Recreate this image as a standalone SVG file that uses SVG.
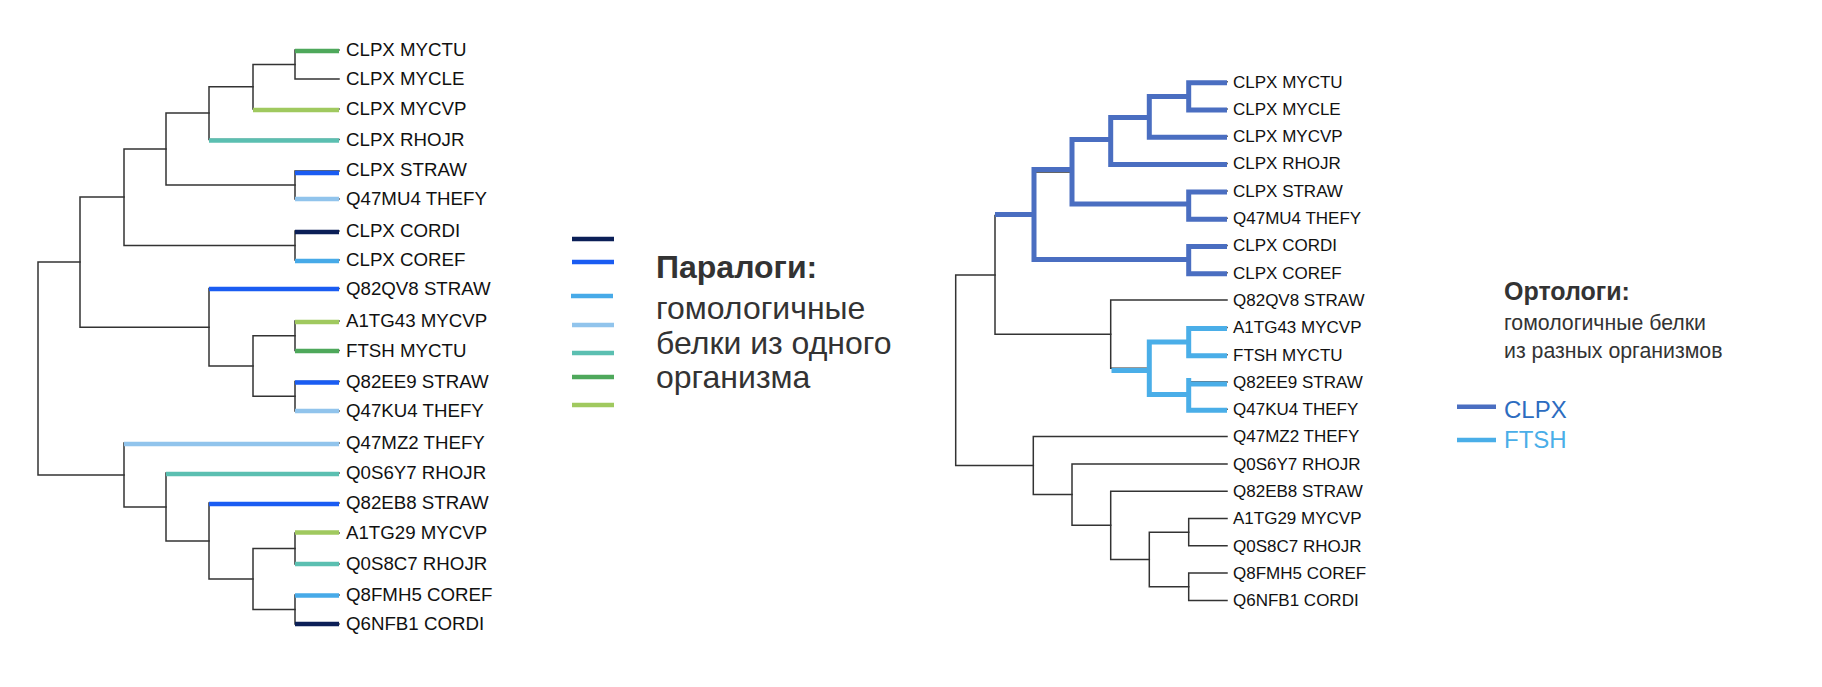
<svg xmlns="http://www.w3.org/2000/svg" width="1822" height="687" viewBox="0 0 1822 687">
<style>
  .bg{fill:#ffffff}
  .br{fill:none;stroke:#333333;stroke-width:1.5;stroke-linecap:square}
  .ov{fill:none;stroke-width:4.5;stroke-linecap:butt}
  .ovr{fill:none;stroke-width:5;stroke-linejoin:miter;stroke-linecap:butt}
  .lfL{font-family:"Liberation Sans",Arial,sans-serif;font-size:18.7px;fill:#111111}
  .lfR{font-family:"Liberation Sans",Arial,sans-serif;font-size:17px;fill:#111111}
  .tt{font-family:"Liberation Sans",Arial,sans-serif;fill:#333333}
  .navy{stroke:#0b1f57}
  .blue{stroke:#1a5cf2}
  .sky{stroke:#47aae8}
  .lblue{stroke:#91c4ec}
  .teal{stroke:#5bbfb1}
  .green{stroke:#4ea85b}
  .lgreen{stroke:#a0c95f}
  .clpx{stroke:#4a6ec1}
  .ftsh{stroke:#4aaee8}
</style>
<rect class="bg" x="0" y="0" width="1822" height="687"/>

<g id="connectors">
  <!-- left tree thin branches -->
  <path class="br" d="M339,50 H295 V79 H339"/>
  <path class="br" d="M295,64.5 H253 V109 H339"/>
  <path class="br" d="M253,86.75 H209 V139.5 H339"/>
  <path class="br" d="M339,171 H295 V199 H339"/>
  <path class="br" d="M209,113 H166 V185 H295"/>
  <path class="br" d="M339,231 H295 V260 H339"/>
  <path class="br" d="M166,149 H124 V245.5 H295"/>
  <path class="br" d="M339,321 H295 V350.5 H339"/>
  <path class="br" d="M339,381.5 H295 V411 H339"/>
  <path class="br" d="M295,335.75 H253 V396.25 H295"/>
  <path class="br" d="M339,288.5 H209 V366 H253"/>
  <path class="br" d="M124,197 H80 V327.25 H209"/>
  <path class="br" d="M339,533 H295 V564 H339"/>
  <path class="br" d="M339,595 H295 V624 H339"/>
  <path class="br" d="M295,548.5 H253 V609.5 H295"/>
  <path class="br" d="M339,503 H209 V579 H253"/>
  <path class="br" d="M339,473 H166 V541 H209"/>
  <path class="br" d="M339,443 H124 V507 H166"/>
  <path class="br" d="M80,262 H38 V475 H124"/>

  <!-- left tree coloured leaf branches -->
  <line class="ov green" x1="295" y1="51" x2="339" y2="51"/>
  <line class="ov lgreen" x1="253" y1="110" x2="339" y2="110"/>
  <line class="ov teal" x1="209" y1="140.5" x2="339" y2="140.5"/>
  <line class="ov blue" x1="295" y1="173" x2="339" y2="173"/>
  <line class="ov lblue" x1="295" y1="199" x2="339" y2="199"/>
  <line class="ov navy" x1="295" y1="232" x2="339" y2="232"/>
  <line class="ov sky" x1="295" y1="261" x2="339" y2="261"/>
  <line class="ov blue" x1="209" y1="289" x2="339" y2="289"/>
  <line class="ov lgreen" x1="295" y1="322" x2="339" y2="322"/>
  <line class="ov green" x1="295" y1="351" x2="339" y2="351"/>
  <line class="ov blue" x1="295" y1="382.5" x2="339" y2="382.5"/>
  <line class="ov lblue" x1="295" y1="411" x2="339" y2="411"/>
  <line class="ov lblue" x1="124" y1="444" x2="339" y2="444"/>
  <line class="ov teal" x1="166" y1="474" x2="339" y2="474"/>
  <line class="ov blue" x1="209" y1="504" x2="339" y2="504"/>
  <line class="ov lgreen" x1="295" y1="532.5" x2="339" y2="532.5"/>
  <line class="ov teal" x1="295" y1="564" x2="339" y2="564"/>
  <line class="ov sky" x1="295" y1="595.5" x2="339" y2="595.5"/>
  <line class="ov navy" x1="295" y1="624" x2="339" y2="624"/>

  <!-- right tree thin branches -->
  <path class="br" d="M1227,81.7 H1188.7 V109 H1227"/>
  <path class="br" d="M1188.7,95.35 H1149.3 V136.3 H1227"/>
  <path class="br" d="M1149.3,115.8 H1110.7 V163.6 H1227"/>
  <path class="br" d="M1227,190.9 H1188.7 V218.2 H1227"/>
  <path class="br" d="M1110.7,139.7 H1072 V204.55 H1188.7"/>
  <path class="br" d="M1227,245.5 H1188.7 V272.8 H1227"/>
  <path class="br" d="M1072,172.1 H1034 V259.15 H1188.7"/>
  <path class="br" d="M1227,327.4 H1188.7 V354.7 H1227"/>
  <path class="br" d="M1227,382 H1188.7 V409.3 H1227"/>
  <path class="br" d="M1188.7,341.05 H1149.3 V395.65 H1188.7"/>
  <path class="br" d="M1227,300.1 H1110.7 V368.35 H1149.3"/>
  <path class="br" d="M1034,215.6 H995 V334.2 H1110.7"/>
  <path class="br" d="M1227,518.5 H1188.7 V545.8 H1227"/>
  <path class="br" d="M1227,573.1 H1188.7 V600.4 H1227"/>
  <path class="br" d="M1188.7,532.15 H1149.3 V586.75 H1188.7"/>
  <path class="br" d="M1227,491.2 H1110.7 V559.45 H1149.3"/>
  <path class="br" d="M1227,463.9 H1072 V525.3 H1110.7"/>
  <path class="br" d="M1227,436.6 H1033.3 V494.6 H1072"/>
  <path class="br" d="M995,274.9 H955.7 V465.6 H1033.3"/>

  <!-- right tree CLPX highlight -->
  <path class="ovr clpx" d="M1227,82.7 H1188.7 V110 H1227"/>
  <path class="ovr clpx" d="M1188.7,96.5 H1149.3 V137.3 H1227"/>
  <path class="ovr clpx" d="M1149.3,117.5 H1110.7 V164.6 H1227"/>
  <path class="ovr clpx" d="M1227,191.9 H1188.7 V219.2 H1227"/>
  <path class="ovr clpx" d="M1110.7,139.5 H1072 V204 H1188.7"/>
  <path class="ovr clpx" d="M1227,246.5 H1188.7 V273.8 H1227"/>
  <path class="ovr clpx" d="M1072,169.5 H1034 V259.5 H1188.7"/>
  <path class="ovr clpx" d="M995,214.5 H1034"/>
  <!-- right tree FTSH highlight -->
  <path class="ovr ftsh" d="M1227,328.4 H1188.7 V355.7 H1227"/>
  <path class="ovr ftsh" d="M1227,384 H1190 M1188.7,378 V410.3 H1227"/>
  <path class="ovr ftsh" d="M1188.7,342 H1149.3 V394.5 H1188.7"/>
  <path class="ovr ftsh" d="M1111.5,370.5 H1149.3"/>
</g>

<g id="tree-left-leaves">
  <g id="L-CLPX-MYCTU"><text class="lfL" x="346" y="56">CLPX MYCTU</text></g>
  <g id="L-CLPX-MYCLE"><text class="lfL" x="346" y="85">CLPX MYCLE</text></g>
  <g id="L-CLPX-MYCVP"><text class="lfL" x="346" y="115">CLPX MYCVP</text></g>
  <g id="L-CLPX-RHOJR"><text class="lfL" x="346" y="145.5">CLPX RHOJR</text></g>
  <g id="L-CLPX-STRAW"><text class="lfL" x="346" y="176">CLPX STRAW</text></g>
  <g id="L-Q47MU4-THEFY"><text class="lfL" x="346" y="205">Q47MU4 THEFY</text></g>
  <g id="L-CLPX-CORDI"><text class="lfL" x="346" y="237">CLPX CORDI</text></g>
  <g id="L-CLPX-COREF"><text class="lfL" x="346" y="266">CLPX COREF</text></g>
  <g id="L-Q82QV8-STRAW"><text class="lfL" x="346" y="294.5">Q82QV8 STRAW</text></g>
  <g id="L-A1TG43-MYCVP"><text class="lfL" x="346" y="327">A1TG43 MYCVP</text></g>
  <g id="L-FTSH-MYCTU"><text class="lfL" x="346" y="356.5">FTSH MYCTU</text></g>
  <g id="L-Q82EE9-STRAW"><text class="lfL" x="346" y="387.5">Q82EE9 STRAW</text></g>
  <g id="L-Q47KU4-THEFY"><text class="lfL" x="346" y="417">Q47KU4 THEFY</text></g>
  <g id="L-Q47MZ2-THEFY"><text class="lfL" x="346" y="449">Q47MZ2 THEFY</text></g>
  <g id="L-Q0S6Y7-RHOJR"><text class="lfL" x="346" y="479">Q0S6Y7 RHOJR</text></g>
  <g id="L-Q82EB8-STRAW"><text class="lfL" x="346" y="509">Q82EB8 STRAW</text></g>
  <g id="L-A1TG29-MYCVP"><text class="lfL" x="346" y="539">A1TG29 MYCVP</text></g>
  <g id="L-Q0S8C7-RHOJR"><text class="lfL" x="346" y="570">Q0S8C7 RHOJR</text></g>
  <g id="L-Q8FMH5-COREF"><text class="lfL" x="346" y="601">Q8FMH5 COREF</text></g>
  <g id="L-Q6NFB1-CORDI"><text class="lfL" x="346" y="630">Q6NFB1 CORDI</text></g>
</g>

<g id="legend-paralogs">
  <line class="ov navy" x1="572" y1="239" x2="614" y2="239"/>
  <line class="ov blue" x1="572" y1="262" x2="614" y2="262"/>
  <line class="ov sky" x1="571" y1="296" x2="613" y2="296"/>
  <line class="ov lblue" x1="572" y1="325" x2="614" y2="325"/>
  <line class="ov teal" x1="572" y1="353" x2="614" y2="353"/>
  <line class="ov green" x1="572" y1="377" x2="614" y2="377"/>
  <line class="ov lgreen" x1="572" y1="405" x2="614" y2="405"/>
  <text class="tt" x="656" y="278" font-size="32" font-weight="bold">Паралоги:</text>
  <text class="tt" x="656" y="319" font-size="32">гомологичные</text>
  <text class="tt" x="656" y="354" font-size="32">белки из одного</text>
  <text class="tt" x="656" y="388" font-size="32">организма</text>
</g>

<g id="tree-right-leaves">
  <g id="R-CLPX-MYCTU"><text class="lfR" x="1233" y="87.5">CLPX MYCTU</text></g>
  <g id="R-CLPX-MYCLE"><text class="lfR" x="1233" y="114.8">CLPX MYCLE</text></g>
  <g id="R-CLPX-MYCVP"><text class="lfR" x="1233" y="142.1">CLPX MYCVP</text></g>
  <g id="R-CLPX-RHOJR"><text class="lfR" x="1233" y="169.4">CLPX RHOJR</text></g>
  <g id="R-CLPX-STRAW"><text class="lfR" x="1233" y="196.7">CLPX STRAW</text></g>
  <g id="R-Q47MU4-THEFY"><text class="lfR" x="1233" y="224">Q47MU4 THEFY</text></g>
  <g id="R-CLPX-CORDI"><text class="lfR" x="1233" y="251.3">CLPX CORDI</text></g>
  <g id="R-CLPX-COREF"><text class="lfR" x="1233" y="278.6">CLPX COREF</text></g>
  <g id="R-Q82QV8-STRAW"><text class="lfR" x="1233" y="305.9">Q82QV8 STRAW</text></g>
  <g id="R-A1TG43-MYCVP"><text class="lfR" x="1233" y="333.2">A1TG43 MYCVP</text></g>
  <g id="R-FTSH-MYCTU"><text class="lfR" x="1233" y="360.5">FTSH MYCTU</text></g>
  <g id="R-Q82EE9-STRAW"><text class="lfR" x="1233" y="387.8">Q82EE9 STRAW</text></g>
  <g id="R-Q47KU4-THEFY"><text class="lfR" x="1233" y="415.1">Q47KU4 THEFY</text></g>
  <g id="R-Q47MZ2-THEFY"><text class="lfR" x="1233" y="442.4">Q47MZ2 THEFY</text></g>
  <g id="R-Q0S6Y7-RHOJR"><text class="lfR" x="1233" y="469.7">Q0S6Y7 RHOJR</text></g>
  <g id="R-Q82EB8-STRAW"><text class="lfR" x="1233" y="497">Q82EB8 STRAW</text></g>
  <g id="R-A1TG29-MYCVP"><text class="lfR" x="1233" y="524.3">A1TG29 MYCVP</text></g>
  <g id="R-Q0S8C7-RHOJR"><text class="lfR" x="1233" y="551.6">Q0S8C7 RHOJR</text></g>
  <g id="R-Q8FMH5-COREF"><text class="lfR" x="1233" y="578.9">Q8FMH5 COREF</text></g>
  <g id="R-Q6NFB1-CORDI"><text class="lfR" x="1233" y="606.2">Q6NFB1 CORDI</text></g>
</g>

<g id="legend-orthologs">
  <text class="tt" x="1504" y="300" font-size="25" font-weight="bold">Ортологи:</text>
  <text class="tt" x="1504" y="330" font-size="21.3">гомологичные белки</text>
  <text class="tt" x="1504" y="358" font-size="21.3">из разных организмов</text>
  <line class="ov clpx" x1="1457" y1="406.7" x2="1496" y2="406.7"/>
  <line class="ov ftsh" x1="1457" y1="440" x2="1496" y2="440"/>
  <text x="1504" y="417.7" font-family="Liberation Sans, Arial, sans-serif" font-size="24" fill="#2c6cc0">CLPX</text>
  <text x="1504" y="447.7" font-family="Liberation Sans, Arial, sans-serif" font-size="24" fill="#4aaee8">FTSH</text>
</g>
</svg>
